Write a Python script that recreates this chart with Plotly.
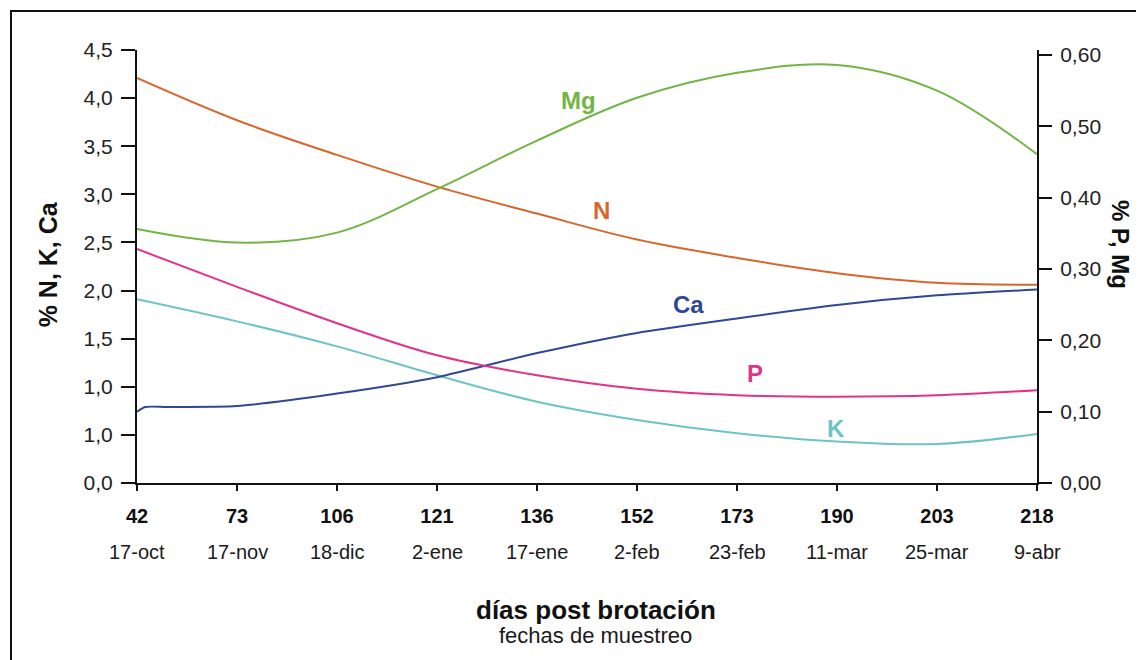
import plotly.graph_objects as go

# ---- data ----
days = ["42", "73", "106", "121", "136", "152", "173", "190", "203", "218"]
dates = ["17-oct", "17-nov", "18-dic", "2-ene", "17-ene", "2-feb", "23-feb", "11-mar", "25-mar", "9-abr"]
idx = list(range(len(days)))

# left axis (%)
N = [4.21, 3.77, 3.41, 3.08, 2.80, 2.53, 2.34, 2.18, 2.08, 2.06]
K = [1.91, 1.68, 1.42, 1.12, 0.845, 0.655, 0.517, 0.43, 0.405, 0.51]
Ca_x = [0, 0.08, 0.3, 1, 2, 3, 4, 5, 6, 7, 8, 9]
Ca = [0.74, 0.79, 0.79, 0.80, 0.93, 1.10, 1.35, 1.56, 1.71, 1.85, 1.95, 2.01]
# right axis (%)
P = [0.328, 0.275, 0.224, 0.179, 0.151, 0.132, 0.123, 0.121, 0.123, 0.130]
Mg = [0.356, 0.337, 0.351, 0.412, 0.480, 0.540, 0.575, 0.586, 0.550, 0.461]

left_ticks = [0, 0.5, 1.0, 1.5, 2.0, 2.5, 3.0, 3.5, 4.0, 4.5]
left_ticktext = ["0,0", "1,0", "1,0", "1,5", "2,0", "2,5", "3,0", "3,5", "4,0", "4,5"]
right_ticks = [0, 0.1, 0.2, 0.3, 0.4, 0.5, 0.6]
right_ticktext = ["0,00", "0,10", "0,20", "0,30", "0,40", "0,50", "0,60"]

labels = ["Mg", "N", "Ca", "P", "K"]
label_x = [4.41, 4.64, 5.51, 6.18, 6.99]
label_y = [3.98, 2.83, 1.86, 1.14, 0.57]

colors = {"N": "#D8662C", "K": "#6CC4C6", "Ca": "#2F4797", "P": "#E2338A", "Mg": "#72B544"}
FONT = "Liberation Sans, Arial, Helvetica, sans-serif"

fig = go.Figure()
fig.add_trace(go.Scatter(x=idx, y=N, mode="lines", line=dict(color=colors["N"], width=2, shape="spline"), yaxis="y"))
fig.add_trace(go.Scatter(x=idx, y=K, mode="lines", line=dict(color=colors["K"], width=2, shape="spline"), yaxis="y"))
fig.add_trace(go.Scatter(x=Ca_x, y=Ca, mode="lines", line=dict(color=colors["Ca"], width=2, shape="spline", smoothing=0.6), yaxis="y"))
fig.add_trace(go.Scatter(x=idx, y=P, mode="lines", line=dict(color=colors["P"], width=2, shape="spline"), yaxis="y2"))
fig.add_trace(go.Scatter(x=idx, y=Mg, mode="lines", line=dict(color=colors["Mg"], width=2, shape="spline"), yaxis="y2"))

annotations = []
for lab, lx, ly in zip(labels, label_x, label_y):
    annotations.append(dict(x=lx, y=ly, xref="x", yref="y", text="<b>%s</b>" % lab, showarrow=False,
                            font=dict(family=FONT, size=24, color=colors[lab])))
for i, d in zip(idx, dates):
    annotations.append(dict(x=i, y=-0.1594, xref="x", yref="paper", text=d, showarrow=False,
                            yanchor="middle", font=dict(family=FONT, size=20, color="#1a1a1a")))
annotations.append(dict(x=0.51, y=-0.2933, xref="paper", yref="paper", text="<b>días post brotación</b>", showarrow=False,
                        yanchor="middle", font=dict(family=FONT, size=26, color="#111")))
annotations.append(dict(x=0.509, y=-0.353, xref="paper", yref="paper", text="fechas de muestreo", showarrow=False,
                        yanchor="middle", font=dict(family=FONT, size=22, color="#1a1a1a")))
annotations.append(dict(x=-0.0989, y=0.505, xref="paper", yref="paper", text="<b>% N, K, Ca</b>", showarrow=False,
                        textangle=-90, xanchor="center", yanchor="middle",
                        font=dict(family=FONT, size=25, color="#111")))
annotations.append(dict(x=1.0922, y=0.5497, xref="paper", yref="paper", text="<b>% P, Mg</b>", showarrow=False,
                        textangle=90, xanchor="center", yanchor="middle",
                        font=dict(family=FONT, size=24, color="#111")))

fig.update_layout(
    width=1144, height=660,
    margin=dict(l=129, r=115, t=42, b=185),
    paper_bgcolor="white", plot_bgcolor="white",
    showlegend=False,
    xaxis=dict(range=[0, 9], tickvals=idx, ticktext=["<b>%s</b>" % d for d in days],
               showgrid=False, zeroline=False, showline=True, linecolor="#111", linewidth=2,
               ticks="outside", ticklen=6, tickwidth=1.5, tickcolor="#111",
               ticklabelstandoff=8,
               tickfont=dict(family=FONT, size=20, color="#111")),
    yaxis=dict(range=[0, 4.5], tickvals=left_ticks, ticktext=left_ticktext,
               showgrid=False, zeroline=False, showline=True, linecolor="#111", linewidth=2,
               ticks="outside", ticklen=14, tickwidth=1.5, tickcolor="#111",
               ticklabelstandoff=4,
               tickfont=dict(family=FONT, size=21, color="#222")),
    yaxis2=dict(range=[0, 0.607], tickvals=right_ticks, ticktext=right_ticktext, overlaying="y", side="right",
                showgrid=False, zeroline=False, showline=True, linecolor="#111", linewidth=2,
                ticks="outside", ticklen=13, tickwidth=1.5, tickcolor="#111",
                ticklabelstandoff=4,
                tickfont=dict(family=FONT, size=21, color="#222")),
    annotations=annotations,
    shapes=[dict(type="rect", xref="paper", yref="paper", x0=-0.14, x1=1.1144, y0=-0.45, y1=1.09,
                 line=dict(color="#111", width=2), fillcolor="rgba(0,0,0,0)", layer="above")],
)

fig.write_html("out.html")
